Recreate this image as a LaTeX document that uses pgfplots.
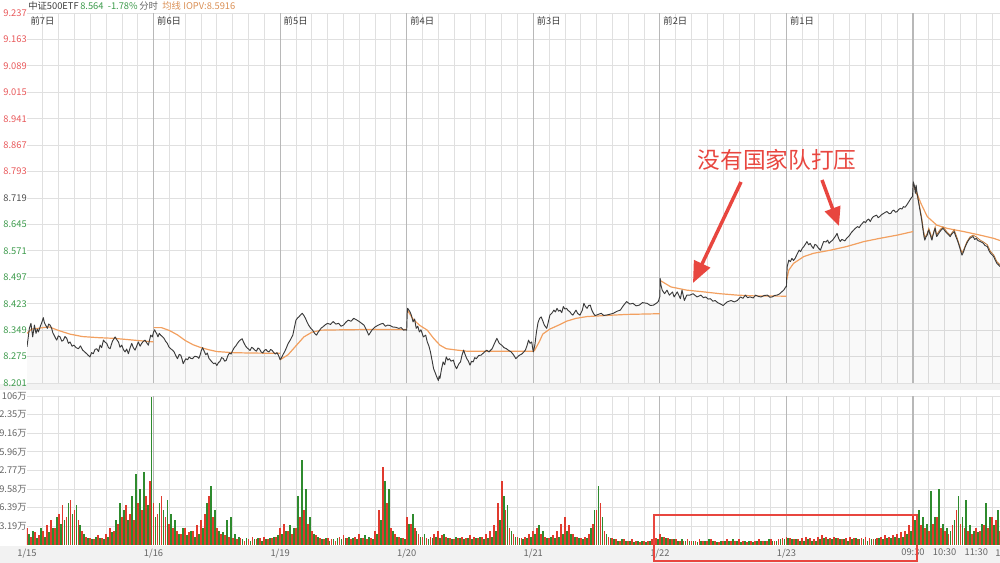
\documentclass[border=0pt]{standalone}
\usepackage{pgfplots}
\pgfplotsset{compat=1.18}
\usepackage{pgfplotstable}
\usepgfplotslibrary{fillbetween}
\usetikzlibrary{arrows.meta}
\usepackage{fontspec}
\setmainfont{Noto Sans CJK SC}
\definecolor{upred}{HTML}{E8585A}
\definecolor{dngreen}{HTML}{3C9A4B}
\definecolor{gridc}{HTML}{E0E0E0}
\definecolor{dayc}{HTML}{B8B8B8}
\definecolor{pricec}{HTML}{3A3A3A}
\definecolor{avgc}{HTML}{F2A060}
\definecolor{iopvc}{HTML}{C07838}
\definecolor{volred}{HTML}{E03A2E}
\definecolor{volgreen}{HTML}{2E8B2E}
\definecolor{annred}{HTML}{E8463F}
\definecolor{lblc}{HTML}{666666}
\definecolor{stripc}{HTML}{F2F2F2}

\pgfplotstableread{
t p
0 8.302
0.08 8.330
0.15 8.354
0.25 8.368
0.36 8.330
0.47 8.363
0.57 8.340
0.65 8.352
0.72 8.344
0.87 8.363
0.95 8.372
1.03 8.384
1.10 8.370
1.18 8.363
1.29 8.354
1.37 8.366
1.46 8.363
1.56 8.354
1.63 8.342
1.71 8.335
1.80 8.327
1.88 8.321
1.98 8.333
2.09 8.330
2.20 8.318
2.30 8.321
2.40 8.331
2.51 8.326
2.62 8.312
2.72 8.316
2.85 8.304
2.97 8.307
3.10 8.300
3.25 8.297
3.38 8.305
3.52 8.293
3.65 8.288
3.77 8.283
3.88 8.278
3.98 8.274
4.08 8.286
4.19 8.283
4.30 8.295
4.41 8.297
4.52 8.289
4.62 8.307
4.72 8.300
4.83 8.321
4.94 8.315
5.04 8.312
5.15 8.300
5.25 8.297
5.40 8.318
5.57 8.330
5.68 8.322
5.78 8.316
5.88 8.301
5.99 8.307
6.10 8.294
6.20 8.288
6.30 8.296
6.41 8.283
6.52 8.300
6.62 8.312
6.72 8.300
6.83 8.293
6.94 8.305
7.04 8.316
7.15 8.304
7.25 8.312
7.36 8.318
7.46 8.321
7.56 8.314
7.67 8.307
7.75 8.322
7.82 8.335
7.92 8.330
8.0 8.344
8.07 8.350
8.13 8.344
8.20 8.339
8.28 8.330
8.36 8.340
8.45 8.335
8.55 8.331
8.66 8.326
8.76 8.318
8.87 8.312
8.97 8.302
9.08 8.297
9.20 8.293
9.30 8.288
9.40 8.278
9.51 8.269
9.62 8.281
9.72 8.279
9.80 8.268
9.87 8.255
9.95 8.262
10.04 8.269
10.15 8.266
10.25 8.274
10.35 8.270
10.46 8.269
10.60 8.276
10.78 8.274
10.86 8.270
10.94 8.279
11.02 8.292
11.10 8.300
11.20 8.290
11.30 8.280
11.40 8.285
11.50 8.270
11.65 8.262
11.80 8.255
11.90 8.257
12.00 8.250
12.10 8.258
12.20 8.262
12.30 8.272
12.40 8.270
12.50 8.262
12.60 8.265
12.70 8.278
12.80 8.285
12.90 8.282
13.00 8.292
13.10 8.300
13.20 8.305
13.30 8.312
13.40 8.318
13.50 8.322
13.60 8.325
13.68 8.316
13.75 8.310
13.82 8.304
13.90 8.300
14.00 8.296
14.10 8.292
14.20 8.301
14.30 8.298
14.40 8.293
14.50 8.290
14.60 8.299
14.70 8.296
14.80 8.288
14.90 8.285
15.00 8.292
15.10 8.295
15.20 8.290
15.30 8.288
15.40 8.295
15.50 8.292
15.60 8.286
15.70 8.282
15.80 8.286
15.90 8.278
16.0 8.266
16.1 8.273
16.2 8.282
16.3 8.290
16.4 8.300
16.5 8.311
16.65 8.322
16.8 8.335
16.9 8.356
17.0 8.377
17.1 8.383
17.2 8.387
17.3 8.392
17.4 8.396
17.5 8.390
17.6 8.382
17.7 8.372
17.8 8.363
17.92 8.355
18.05 8.349
18.18 8.340
18.3 8.335
18.4 8.343
18.5 8.349
18.6 8.355
18.7 8.358
18.85 8.364
19.0 8.368
19.18 8.365
19.35 8.373
19.52 8.366
19.7 8.368
19.85 8.360
20.0 8.363
20.15 8.371
20.3 8.377
20.48 8.374
20.65 8.382
20.82 8.378
21.0 8.373
21.15 8.368
21.3 8.363
21.45 8.350
21.6 8.335
21.7 8.342
21.8 8.349
22.0 8.358
22.2 8.363
22.35 8.366
22.5 8.368
22.65 8.360
22.8 8.363
22.95 8.362
23.1 8.358
23.3 8.357
23.5 8.354
23.65 8.356
23.8 8.349
23.9 8.350
24.0 8.349
24.03 8.395
24.06 8.410
24.2 8.401
24.3 8.390
24.4 8.372
24.5 8.380
24.6 8.354
24.7 8.360
24.8 8.344
24.9 8.350
25.05 8.330
25.2 8.335
25.3 8.316
25.4 8.305
25.5 8.288
25.6 8.265
25.7 8.241
25.8 8.230
25.9 8.218
26.0 8.208
26.05 8.220
26.1 8.214
26.2 8.240
26.3 8.260
26.4 8.252
26.5 8.274
26.6 8.265
26.7 8.269
26.8 8.262
26.95 8.265
27.05 8.250
27.15 8.241
27.3 8.255
27.4 8.260
27.5 8.280
27.6 8.293
27.7 8.280
27.8 8.269
27.9 8.262
28.0 8.251
28.1 8.262
28.2 8.260
28.3 8.272
28.4 8.269
28.55 8.278
28.7 8.279
28.85 8.285
29.05 8.293
29.2 8.288
29.4 8.297
29.55 8.312
29.7 8.326
29.85 8.312
30.0 8.307
30.15 8.300
30.3 8.297
30.45 8.292
30.6 8.288
30.75 8.280
30.9 8.269
31.1 8.278
31.3 8.283
31.5 8.293
31.6 8.305
31.7 8.321
31.8 8.312
31.9 8.316
32.0 8.288
32.1 8.307
32.2 8.344
32.3 8.370
32.4 8.382
32.5 8.386
32.6 8.375
32.7 8.363
32.85 8.354
32.95 8.372
33.05 8.391
33.2 8.398
33.3 8.405
33.4 8.400
33.5 8.410
33.6 8.402
33.7 8.405
33.8 8.398
33.9 8.415
34.0 8.408
34.1 8.410
34.2 8.404
34.3 8.401
34.4 8.395
34.5 8.391
34.6 8.398
34.7 8.405
34.8 8.396
34.95 8.391
35.1 8.405
35.2 8.424
35.3 8.415
35.4 8.410
35.5 8.418
35.6 8.419
35.7 8.405
35.8 8.396
35.9 8.390
36.0 8.391
36.15 8.394
36.3 8.396
36.45 8.390
36.6 8.391
36.8 8.393
37.05 8.396
37.3 8.402
37.5 8.405
37.7 8.418
37.9 8.429
38.1 8.422
38.3 8.424
38.5 8.417
38.7 8.419
38.9 8.426
39.2 8.424
39.4 8.418
39.6 8.419
39.8 8.425
39.9 8.429
40.0 8.443
40.02 8.494
40.07 8.475
40.15 8.461
40.3 8.451
40.45 8.461
40.6 8.447
40.8 8.456
40.9 8.442
41.1 8.456
41.3 8.437
41.4 8.461
41.55 8.432
41.7 8.447
41.9 8.447
42.1 8.451
42.35 8.442
42.6 8.447
42.75 8.440
42.9 8.442
43.05 8.436
43.2 8.437
43.35 8.430
43.5 8.432
43.65 8.426
43.8 8.423
44.0 8.418
44.25 8.428
44.5 8.432
44.7 8.428
44.9 8.432
45.1 8.442
45.25 8.438
45.4 8.447
45.55 8.440
45.7 8.442
45.9 8.439
46.05 8.447
46.25 8.443
46.4 8.442
46.6 8.446
46.8 8.447
46.95 8.441
47.1 8.442
47.25 8.446
47.4 8.447
47.55 8.450
47.7 8.456
47.85 8.462
47.95 8.470
48.0 8.470
48.02 8.499
48.05 8.527
48.15 8.545
48.25 8.541
48.35 8.550
48.45 8.544
48.55 8.550
48.7 8.564
48.8 8.573
48.9 8.569
49.0 8.578
49.1 8.583
49.2 8.590
49.3 8.597
49.4 8.588
49.5 8.592
49.6 8.584
49.7 8.578
49.8 8.589
49.9 8.587
50.0 8.580
50.15 8.573
50.25 8.585
50.35 8.597
50.5 8.596
50.6 8.601
50.7 8.592
50.8 8.597
50.9 8.600
51.0 8.606
51.1 8.612
51.2 8.620
51.3 8.606
51.4 8.597
51.5 8.603
51.6 8.601
51.7 8.599
51.8 8.606
51.9 8.610
52.0 8.615
52.1 8.622
52.25 8.629
52.35 8.634
52.5 8.639
52.6 8.636
52.7 8.643
52.8 8.648
52.9 8.653
53.0 8.650
53.1 8.657
53.2 8.660
53.3 8.653
53.4 8.662
53.5 8.667
53.6 8.669
53.7 8.671
53.8 8.664
53.9 8.667
54.0 8.672
54.15 8.676
54.25 8.679
54.35 8.681
54.5 8.675
54.6 8.676
54.7 8.683
54.8 8.685
54.9 8.679
55.0 8.681
55.1 8.687
55.2 8.690
55.3 8.688
55.4 8.695
55.5 8.693
55.6 8.699
55.7 8.706
55.8 8.713
55.9 8.720
55.97 8.723
56.02 8.764
56.05 8.760
56.1 8.751
56.15 8.732
56.2 8.755
56.25 8.735
56.3 8.723
56.35 8.708
56.4 8.695
56.48 8.675
56.55 8.657
56.6 8.640
56.65 8.625
56.7 8.610
56.75 8.601
56.82 8.610
56.9 8.615
56.95 8.625
57.0 8.629
57.05 8.620
57.1 8.615
57.15 8.607
57.2 8.601
57.25 8.612
57.3 8.620
57.35 8.628
57.4 8.634
57.45 8.620
57.5 8.611
57.6 8.618
57.7 8.625
57.8 8.630
57.9 8.634
58.0 8.628
58.15 8.620
58.25 8.616
58.35 8.611
58.45 8.618
58.6 8.625
58.7 8.612
58.8 8.601
58.9 8.588
59.0 8.573
59.05 8.565
59.1 8.559
59.15 8.564
59.2 8.569
59.3 8.582
59.4 8.592
59.5 8.600
59.6 8.606
59.7 8.609
59.8 8.611
59.9 8.603
60.0 8.606
60.1 8.600
60.25 8.597
60.35 8.595
60.45 8.592
60.55 8.586
60.7 8.583
60.8 8.572
60.9 8.564
61.0 8.560
61.1 8.555
61.2 8.545
61.3 8.536
61.4 8.532
61.5 8.527
}\pricetab

\pgfplotstableread{
t p
0 8.340
0.3 8.352
0.7 8.354
1.0 8.356
1.4 8.358
2.0 8.348
2.7 8.338
3.5 8.331
4.5 8.328
5.5 8.326
6.5 8.322
7.5 8.318
8 8.316
8 nan
8 8.356
8.5 8.356
9 8.348
9.5 8.336
10 8.320
10.5 8.308
11 8.300
11.5 8.294
12 8.289
13 8.286
14 8.285
16 8.284
16 nan
16 8.266
16.5 8.280
16.9 8.300
17.5 8.330
18.0 8.343
18.6 8.349
20 8.350
22 8.351
24 8.351
24 nan
24.04 8.405
24.4 8.380
24.8 8.363
25.3 8.349
25.7 8.326
26.1 8.307
26.5 8.297
27.2 8.293
27.8 8.290
32 8.290
32 nan
32.05 8.290
32.4 8.318
32.6 8.338
33.05 8.352
33.7 8.365
34.1 8.374
34.7 8.382
35.4 8.387
36.6 8.390
37.9 8.393
40 8.395
40 nan
40.02 8.488
40.7 8.470
41.7 8.461
42.8 8.456
43.8 8.451
44.9 8.447
45.9 8.445
48 8.444
48 nan
48.02 8.490
48.15 8.517
48.45 8.536
49.1 8.555
49.7 8.564
50.8 8.573
51.8 8.583
52.9 8.597
53.9 8.606
55.0 8.615
56 8.625
56 nan
56.02 8.758
56.5 8.704
56.9 8.667
57.5 8.643
58.15 8.634
59.2 8.625
60.25 8.615
61.1 8.606
61.5 8.600
}\avgtab

\pgfplotstableread{
t p
56.05 8.752
56.15 8.740
56.25 8.728
56.4 8.700
56.55 8.664
56.65 8.632
56.75 8.608
56.9 8.620
57.0 8.634
57.2 8.607
57.4 8.638
57.5 8.616
57.7 8.630
57.9 8.638
58.15 8.624
58.35 8.615
58.6 8.630
58.8 8.606
59.0 8.578
59.1 8.565
59.2 8.574
59.4 8.596
59.6 8.610
59.8 8.615
60.0 8.610
60.25 8.601
60.45 8.596
60.7 8.588
60.9 8.569
61.1 8.560
61.3 8.541
61.5 8.532
}\iopvtab

\pgfplotstableread{
x r g
0.00 12 8
0.25 6 10
0.50 9 5
0.75 7 12
1.00 10 6
1.25 14 9
1.50 18 12
1.75 12 20
2.00 22 15
2.25 28 18
2.50 20 30
2.75 32 22
3.00 25 28
3.25 18 14
3.50 10 8
3.75 6 5
4.00 5 4
4.25 4 6
4.50 7 5
4.75 5 4
5.00 8 6
5.25 12 9
5.50 10 18
5.75 15 30
6.00 20 25
6.25 28 18
6.50 22 35
6.75 18 50
7.00 30 40
7.25 25 52
7.50 35 28
7.75 45 105
8.00 30 20
8.25 22 30
8.50 35 25
8.75 20 32
9.00 15 22
9.25 12 18
9.50 10 8
9.75 8 12
10.00 12 7
10.25 9 10
10.50 10 6
10.75 14 8
11.00 18 12
11.25 22 30
11.50 35 42
11.75 20 25
12.00 12 10
12.25 8 9
12.50 7 18
12.75 6 20
13.00 5 8
13.25 4 6
13.50 5 4
13.75 3 5
14.00 4 3
14.25 6 4
14.50 4 5
14.75 5 3
15.00 6 4
15.25 4 5
15.50 5 6
15.75 6 7
16.00 12 8
16.25 15 10
16.50 10 14
16.75 8 12
17.00 12 35
17.25 20 60
17.50 25 40
17.75 15 20
18.00 10 8
18.25 7 6
18.50 5 4
18.75 4 5
19.00 5 3
19.25 4 4
19.50 3 5
19.75 6 4
20.00 7 5
20.25 5 6
20.50 4 5
20.75 6 4
21.00 8 5
21.25 5 7
21.50 4 6
21.75 5 4
22.00 10 8
22.25 25 18
22.50 55 45
22.75 30 40
23.00 12 10
23.25 8 6
23.50 6 5
23.75 5 4
24.00 20 15
24.25 15 22
24.50 12 10
24.75 8 6
25.00 6 8
25.25 5 4
25.50 6 5
25.75 8 6
26.00 10 5
26.25 7 8
26.50 6 5
26.75 5 4
27.00 4 6
27.25 5 5
27.50 6 4
27.75 5 5
28.00 7 4
28.25 6 5
28.50 5 6
28.75 6 4
29.00 8 5
29.25 10 6
29.50 14 10
29.75 30 18
30.00 45 35
30.25 25 28
30.50 12 10
30.75 8 6
31.00 6 5
31.25 5 4
31.50 6 5
31.75 8 6
32.00 10 8
32.25 12 14
32.50 8 10
32.75 6 5
33.00 5 6
33.25 7 5
33.50 10 6
33.75 15 8
34.00 20 10
34.25 14 8
34.50 8 6
34.75 6 5
35.00 5 4
35.25 6 5
35.50 8 12
35.75 15 25
36.00 25 42
36.25 30 20
36.50 10 8
36.75 6 5
37.00 5 4
37.25 4 3
37.50 3 4
37.75 4 3
38.00 3 3
38.25 4 2
38.50 3 3
38.75 2 3
39.00 3 2
39.25 3 3
39.50 4 3
39.75 5 4
40.00 8 6
40.25 6 5
40.50 5 4
40.75 4 4
41.00 4 3
41.25 3 4
41.50 3 3
41.75 4 3
42.00 3 3
42.25 3 2
42.50 4 3
42.75 3 3
43.00 3 4
43.25 4 3
43.50 3 2
43.75 2 3
44.00 3 3
44.25 4 3
44.50 3 4
44.75 3 3
45.00 4 2
45.25 3 3
45.50 2 3
45.75 3 2
46.00 3 3
46.25 4 3
46.50 3 3
46.75 3 4
47.00 4 3
47.25 3 3
47.50 4 4
47.75 5 4
48.00 6 5
48.25 5 4
48.50 4 4
48.75 4 3
49.00 5 3
49.25 6 4
49.50 5 3
49.75 4 3
50.00 6 4
50.25 7 5
50.50 6 4
50.75 5 4
51.00 6 5
51.25 5 4
51.50 4 4
51.75 5 3
52.00 6 4
52.25 5 5
52.50 4 4
52.75 5 4
53.00 6 3
53.25 5 4
53.50 4 4
53.75 5 5
54.00 6 4
54.25 7 5
54.50 6 5
54.75 7 6
55.00 8 5
55.25 9 6
55.50 10 8
55.75 14 10
56.00 22 18
56.25 18 25
56.50 14 20
56.75 12 15
57.00 10 38
57.25 15 20
57.50 20 40
57.75 12 15
58.00 10 12
58.25 8 10
58.50 14 18
58.75 25 35
59.00 15 20
59.25 12 32
59.50 10 14
59.75 8 10
60.00 12 9
60.25 10 15
60.50 14 30
60.75 12 20
61.00 20 14
61.25 18 25
61.50 10 12
}\voltab

\begin{document}
\begin{tikzpicture}[x=0.75pt,y=0.75pt]
\fill[stripc] (0,0) rectangle (1000,17);
\fill[stripc] (0,173) rectangle (1000,179);
\coordinate (UP) at (27,180);
\coordinate (LO) at (27,18);

% header
\begin{scope}[every node/.style={anchor=west,inner sep=0pt,font=\fontsize{7}{8}\selectfont}]
\node[text=pricec] at (28,557) {中证500ETF};
\node[text=dngreen] at (80,557) {8.564\ \ -1.78\%};
\node[text=lblc] at (139,557) {分时};
\node[text=avgc!90!black] at (162,557) {均线};
\node[text=avgc!90!black] at (183,557) {IOPV:8.5916};
\end{scope}

% upper panel
\begin{axis}[
  at={(UP)}, anchor=south west,
  scale only axis, width=729.75pt, height=277.5pt,
  xmin=0, xmax=61.5, ymin=8.201, ymax=9.237,
  axis line style={draw=none},
  xtick={0}, xticklabel=\empty,
  minor xtick={1,...,61},
  ytick={8.201,8.275,8.349,8.423,8.497,8.571,8.645,8.719,8.793,8.867,8.941,9.015,9.089,9.163,9.237},
  yticklabels={\textcolor{dngreen}{8.201},\textcolor{dngreen}{8.275},\textcolor{dngreen}{8.349},\textcolor{dngreen}{8.423},\textcolor{dngreen}{8.497},\textcolor{dngreen}{8.571},\textcolor{dngreen}{8.645},\textcolor{pricec!90}{8.719},\textcolor{upred}{8.793},\textcolor{upred}{8.867},\textcolor{upred}{8.941},\textcolor{upred}{9.015},\textcolor{upred}{9.089},\textcolor{upred}{9.163},\textcolor{upred}{9.237}},
  yticklabel style={font=\fontsize{7}{8}\selectfont, inner sep=1pt, xshift=1pt},
  /pgf/number format/assume math mode=true,
  major tick length=0pt, minor tick length=0pt,
  xmajorgrids=false, xminorgrids=true, ymajorgrids=true,
  major grid style={draw=gridc, line width=0.6pt},
  minor grid style={draw=gridc, line width=0.6pt},
  unbounded coords=jump,
  clip=true,
]
\pgfplotsinvokeforeach{8,16,24,32,40,48,56}{
  \draw[dayc, line width=0.8pt] (axis cs:#1,8.201) -- (axis cs:#1,9.237);
}
\addplot[draw=none, name path=price, forget plot] table[x=t,y=p] {\pricetab};
\path[name path=bot] (axis cs:0,8.201) -- (axis cs:61.5,8.201);
\addplot[fill=black, fill opacity=0.022, draw=none] fill between[of=price and bot];
\pgfplotsinvokeforeach{8.32,8.38,8.44,8.50,8.56,8.62,8.68}{
\addplot[fill=black, fill opacity=0.013, draw=none] fill between[of=price and bot, soft clip={(axis cs:0,#1) rectangle (axis cs:61.5,9.3)}];
}
\addplot[avgc, line width=0.9pt] table[x=t,y=p] {\avgtab};
\addplot[iopvc, line width=0.6pt] table[x=t,y=p] {\iopvtab};
\addplot[pricec, line width=0.7pt, line join=round] table[x=t,y=p] {\pricetab};
\node[anchor=north west, inner sep=0pt, font=\fontsize{7}{8}\selectfont, text=pricec, xshift=2.5pt, yshift=-2.2pt] at (axis cs:0,9.237) {前7日};
\node[anchor=north west, inner sep=0pt, font=\fontsize{7}{8}\selectfont, text=pricec, xshift=2.5pt, yshift=-2.2pt] at (axis cs:8,9.237) {前6日};
\node[anchor=north west, inner sep=0pt, font=\fontsize{7}{8}\selectfont, text=pricec, xshift=2.5pt, yshift=-2.2pt] at (axis cs:16,9.237) {前5日};
\node[anchor=north west, inner sep=0pt, font=\fontsize{7}{8}\selectfont, text=pricec, xshift=2.5pt, yshift=-2.2pt] at (axis cs:24,9.237) {前4日};
\node[anchor=north west, inner sep=0pt, font=\fontsize{7}{8}\selectfont, text=pricec, xshift=2.5pt, yshift=-2.2pt] at (axis cs:32,9.237) {前3日};
\node[anchor=north west, inner sep=0pt, font=\fontsize{7}{8}\selectfont, text=pricec, xshift=2.5pt, yshift=-2.2pt] at (axis cs:40,9.237) {前2日};
\node[anchor=north west, inner sep=0pt, font=\fontsize{7}{8}\selectfont, text=pricec, xshift=2.5pt, yshift=-2.2pt] at (axis cs:48,9.237) {前1日};
\end{axis}

% lower panel
\begin{axis}[
  at={(LO)}, anchor=south west,
  scale only axis, width=729.75pt, height=111.75pt,
  xmin=0, xmax=61.5, ymin=0, ymax=105.52,
  axis line style={draw=none},
  xtick={0,8,16,24,32,40,48,56,58,60},
  xticklabels={1/15,1/16,1/19,1/20,1/21,1/22,1/23,09:30,10:30,11:30},
  xticklabel style={font=\fontsize{7}{8}\selectfont, text=lblc, inner sep=1pt, yshift=-1.5pt},
  minor xtick={1,...,61},
  ytick={13.19,26.39,39.58,52.77,65.96,79.16,92.35,105.52},
  yticklabels={13.19万,26.39万,39.58万,52.77万,65.96万,79.16万,92.35万,106万},
  yticklabel style={font=\fontsize{7}{8}\selectfont, text=lblc, inner sep=1pt, xshift=1pt},
  /pgf/number format/assume math mode=true,
  major tick length=0pt, minor tick length=0pt,
  xmajorgrids=false, xminorgrids=true, ymajorgrids=true,
  major grid style={draw=gridc, line width=0.6pt},
  minor grid style={draw=gridc, line width=0.6pt},
  clip=true,
]
\pgfplotsinvokeforeach{8,16,24,32,40,48,56}{
  \draw[dayc, line width=0.8pt] (axis cs:#1,0) -- (axis cs:#1,105.52);
}
\addplot[ycomb, volred, line width=1.35pt, mark=none] table[x=x,y=r] {\voltab};
\addplot[ycomb, volgreen, line width=1.35pt, mark=none] table[x expr=\thisrow{x}+0.125,y=g] {\voltab};
\draw[volred, line width=0.6pt] (axis cs:0,0) -- (axis cs:61.5,0);
\end{axis}

\node[anchor=center, inner sep=0pt, font=\fontsize{7}{8}\selectfont, text=lblc] at (1007,10) {14:00};

% annotation
\node[text=annred, font=\fontsize{17}{20}\selectfont, inner sep=0pt] at (777,403) {没有国家队打压};
\draw[annred, line width=2.6pt, -{Triangle[length=16pt,width=13pt]}] (741,381) -- (693,280);
\draw[annred, line width=2.6pt, -{Triangle[length=14pt,width=12pt]}] (822,383) -- (839,337);
\draw[annred, line width=1.6pt] (654,2) rectangle (917,48);

\pgfresetboundingbox
\useasboundingbox (0,0) rectangle (1000,563);
\end{tikzpicture}
\end{document}
